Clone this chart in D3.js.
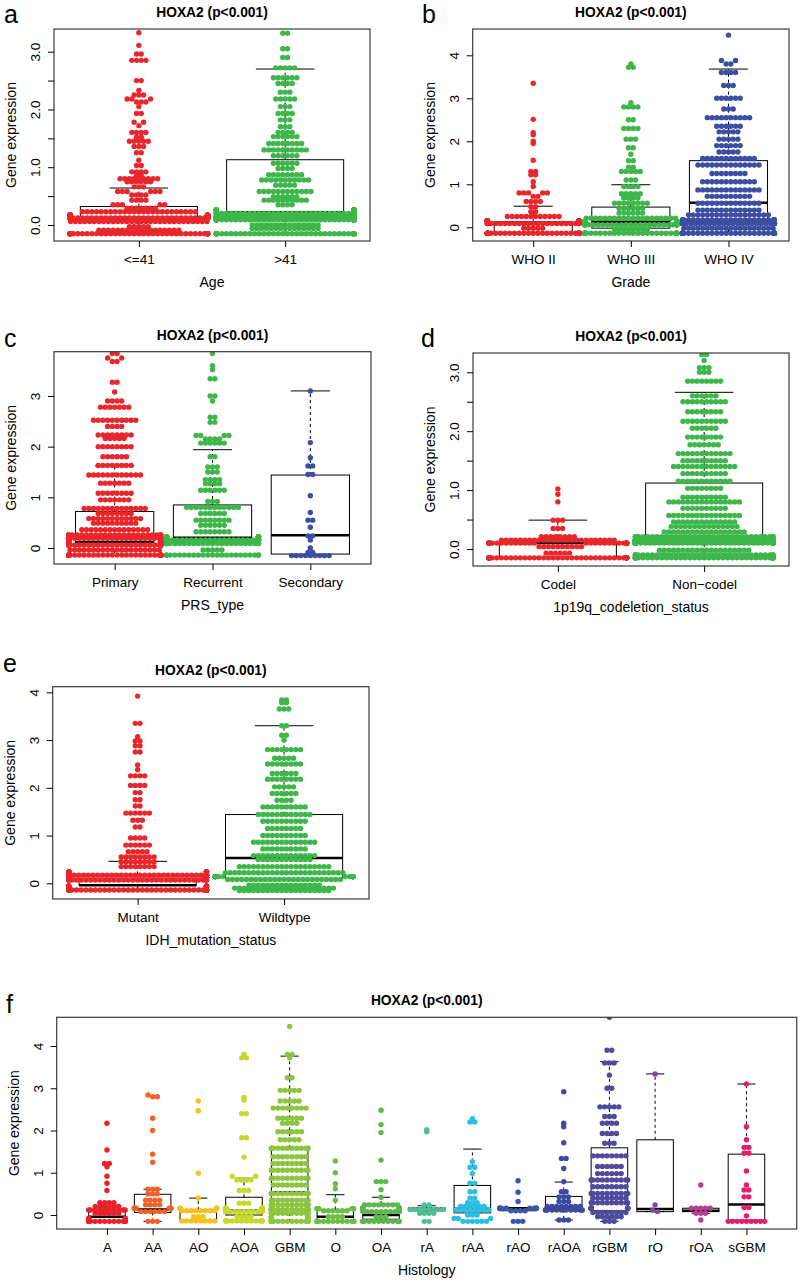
<!DOCTYPE html>
<html><head><meta charset="utf-8">
<script src="https://cdn.jsdelivr.net/npm/d3@7"></script>
<style>body{margin:0;background:#fff} svg{display:block} text{font-family:"Liberation Sans",Arial,sans-serif}</style>
</head><body><svg id="chart" width="800" height="1282"></svg>
<script>
// ---------- DATA (value levels: [value, number of samples]) ----------
const ageCats = ["<=41", ">41"];
const ageLE41 = [[3.33,1],[3.11,1],[2.96,2],[2.85,4],[2.5,2],[2.33,1],[2.25,3],[2.18,3],[2.13,3],[2.05,1],[1.93,2],[1.78,2],[1.72,1],[1.6,4],[1.52,2],[1.45,5],[1.36,3],[1.25,2],[1.12,1],[1.03,2],[0.92,4],[0.87,2],[0.8,9],[0.75,6],[0.66,3],[0.58,6],[0.52,4],[0.43,4],[0.35,5],[0.29,7],[0.23,25],[0.17,45],[0.12,60],[0.06,30],[-0.03,5],[-0.09,18],[-0.15,45]];
const ageGT41 = [[3.32,2],[3.05,2],[2.9,2],[2.72,5],[2.55,6],[2.45,4],[2.3,3],[2.18,5],[2.05,3],[1.93,4],[1.82,3],[1.7,3],[1.6,4],[1.53,6],[1.41,8],[1.3,10],[1.2,6],[1.07,6],[0.98,4],[0.87,8],[0.78,11],[0.69,5],[0.58,12],[0.49,6],[0.43,10],[0.35,4],[0.26,20],[0.2,40],[0.14,55],[0.09,70],[0.0,15],[-0.06,15],[-0.15,50]];
const ageBox = [[-0.15,0.05,0.12,0.32,0.64],[-0.15,0.1,0.22,1.13,2.7]]; // [low whisker, Q1, median, Q3, high whisker]

const gradeCats = ["WHO II","WHO III","WHO IV"];
const gradeII = [[3.35,1],[2.51,1],[2.2,1],[2.15,1],[2.0,1],[1.95,1],[1.56,1],[1.3,2],[1.22,2],[1.06,1],[0.95,1],[0.8,5],[0.72,2],[0.6,4],[0.48,2],[0.36,2],[0.25,12],[0.15,40],[0.09,25],[-0.02,5],[-0.14,45]];
const gradeIII = [[3.8,1],[3.72,2],[2.9,1],[2.8,4],[2.5,2],[2.3,4],[2.05,3],[1.85,2],[1.7,1],[1.55,2],[1.4,2],[1.3,5],[1.1,3],[0.95,4],[0.78,5],[0.68,4],[0.56,8],[0.44,6],[0.33,6],[0.21,20],[0.13,50],[0.06,35],[-0.05,8],[-0.14,40]];
const gradeIV = [[4.47,1],[3.88,2],[3.8,2],[3.6,4],[3.3,3],[3.0,6],[2.75,3],[2.55,10],[2.35,6],[2.22,5],[2.05,5],[1.9,6],[1.75,5],[1.6,12],[1.45,14],[1.25,8],[1.06,12],[0.87,14],[0.72,10],[0.56,14],[0.4,14],[0.29,18],[0.17,30],[0.09,35],[-0.02,20],[-0.14,40]];
const gradeBox = [[-0.14,-0.14,0.09,0.13,0.49],[-0.14,-0.02,0.13,0.47,0.99],[-0.14,0.1,0.57,1.55,3.68]];

const prsCats = ["Primary","Recurrent","Secondary"];
const prsPrimary = [[3.84,2],[3.75,2],[3.68,2],[3.27,2],[3.08,1],[2.9,4],[2.78,7],[2.52,10],[2.4,4],[2.23,8],[2.16,5],[2.0,8],[1.8,6],[1.63,8],[1.44,12],[1.28,7],[1.08,8],[0.95,7],[0.78,14],[0.68,8],[0.58,12],[0.49,10],[0.36,15],[0.26,25],[0.19,50],[0.12,65],[0.06,35],[-0.04,20],[-0.14,80]];
const prsRecurrent = [[3.84,1],[3.6,1],[3.52,1],[3.34,2],[3.0,2],[2.9,1],[2.58,2],[2.48,2],[2.22,4],[2.15,4],[2.07,6],[1.8,2],[1.6,3],[1.5,3],[1.35,4],[1.27,4],[1.14,6],[0.92,3],[0.8,12],[0.68,6],[0.55,8],[0.45,6],[0.32,8],[0.22,25],[0.16,35],[0.09,25],[-0.04,5],[-0.14,25]];
const prsSecondary = [[3.1,1],[2.08,1],[1.78,1],[1.62,2],[1.45,2],[1.03,1],[0.7,1],[0.55,2],[0.41,1],[0.24,2],[0.16,1],[0.0,1],[-0.09,2],[-0.15,9]];
const prsBox = [[-0.14,-0.04,0.12,0.72,1.62],[-0.14,0.09,0.2,0.85,1.94],[-0.15,-0.12,0.25,1.44,3.1]];

const codelCats = ["Codel","Non\u2212codel"];
const codelYes = [[1.02,1],[0.93,1],[0.8,1],[0.49,3],[0.35,3],[0.21,8],[0.15,25],[0.1,45],[0.04,10],[-0.07,6],[-0.15,55]];
const codelNon = [[3.3,2],[3.2,1],[3.08,3],[3.0,3],[2.85,8],[2.6,6],[2.5,10],[2.33,8],[2.17,10],[2.05,6],[1.9,8],[1.77,7],[1.62,12],[1.5,10],[1.4,14],[1.28,10],[1.15,12],[1.03,8],[0.88,10],[0.8,16],[0.69,10],[0.57,16],[0.46,14],[0.38,15],[0.29,18],[0.21,35],[0.15,60],[0.1,80],[-0.02,20],[-0.1,35],[-0.15,45]];
const codelBox = [[-0.15,-0.15,0.1,0.1,0.49],[-0.15,0.08,0.21,1.12,2.66]];

const idhCats = ["Mutant","Wildtype"];
const idhMutant = [[3.92,1],[3.35,2],[3.07,1],[2.98,2],[2.88,2],[2.75,2],[2.48,1],[2.38,1],[2.25,4],[2.05,4],[1.9,2],[1.75,2],[1.62,2],[1.47,6],[1.32,3],[1.18,2],[0.95,4],[0.8,6],[0.66,5],[0.55,8],[0.45,8],[0.35,8],[0.24,18],[0.17,50],[0.12,60],[0.07,35],[-0.06,15],[-0.14,80]];
const idhWildtype = [[3.84,2],[3.78,2],[3.65,3],[3.3,2],[3.1,2],[3.0,1],[2.8,8],[2.62,5],[2.5,8],[2.3,6],[2.18,8],[2.02,5],[1.88,6],[1.74,4],[1.6,10],[1.44,12],[1.3,10],[1.15,8],[1.0,10],[0.86,14],[0.72,10],[0.58,14],[0.5,12],[0.35,20],[0.22,26],[0.14,30],[0.08,25],[-0.04,16],[-0.1,22],[-0.15,20]];
const idhBox = [[-0.15,-0.04,-0.04,0.06,0.46],[-0.15,0.1,0.53,1.44,3.3]];

const histCats = ["A","AA","AO","AOA","GBM","O","OA","rA","rAA","rAO","rAOA","rGBM","rO","rOA","sGBM"];
const histA = [[2.17,1],[1.54,1],[1.22,2],[1.14,1],[0.92,1],[0.75,1],[0.58,1],[0.29,4],[0.2,6],[0.12,10],[0.04,6],[-0.08,4],[-0.15,14]];
const histAA = [[2.84,1],[2.8,2],[2.29,1],[2.0,1],[1.44,1],[1.25,1],[0.61,3],[0.5,3],[0.35,4],[0.24,4],[0.16,6],[0.08,6],[-0.15,3]];
const histAO = [[2.7,1],[2.47,1],[0.99,1],[0.4,1],[0.16,4],[0.1,8],[-0.04,3],[-0.14,8]];
const histAOA = [[3.8,1],[3.72,2],[2.78,1],[2.72,1],[2.4,2],[1.83,2],[1.37,1],[0.92,2],[0.83,4],[0.58,3],[0.28,3],[0.16,15],[0.08,12],[-0.04,4],[-0.14,14]];
const histGBM = [[4.46,1],[3.8,2],[3.72,1],[3.25,2],[2.95,5],[2.7,5],[2.53,8],[2.29,6],[2.17,4],[1.97,6],[1.78,5],[1.58,12],[1.38,8],[1.22,8],[1.06,10],[0.87,10],[0.71,8],[0.51,12],[0.35,10],[0.24,14],[0.13,20],[0.04,14],[-0.06,12],[-0.15,20]];
const histO = [[1.28,1],[1.0,1],[0.74,1],[0.62,1],[0.35,1],[0.15,6],[0.1,6],[-0.04,4],[-0.15,18]];
const histOA = [[2.48,1],[2.14,1],[1.95,1],[1.3,1],[0.79,3],[0.6,1],[0.42,1],[0.24,8],[0.16,15],[0.08,10],[-0.04,3],[-0.15,12]];
const histrA = [[2.02,1],[1.97,1],[0.24,2],[0.13,8],[0.04,4],[-0.15,2]];
const histrAA = [[2.28,1],[2.2,2],[1.26,1],[1.13,2],[0.98,1],[0.75,2],[0.55,2],[0.4,2],[0.29,3],[0.2,6],[0.12,8],[0.0,3],[-0.08,3],[-0.15,6]];
const histrAO = [[0.81,1],[0.54,1],[0.32,1],[0.16,10],[0.1,4],[-0.15,3]];
const histrAOA = [[2.92,1],[2.17,1],[2.09,1],[1.71,1],[1.34,2],[1.1,1],[0.79,1],[0.55,2],[0.43,3],[0.32,3],[0.2,8],[0.12,12],[-0.12,3]];
const histrGBM = [[4.68,1],[3.9,2],[3.6,3],[3.31,1],[3.0,2],[2.56,5],[2.33,3],[2.17,4],[1.93,4],[1.7,3],[1.4,8],[1.15,6],[0.98,6],[0.83,10],[0.67,8],[0.51,10],[0.4,8],[0.29,10],[0.16,12],[0.06,8],[-0.04,6],[-0.15,3]];
const histrO = [[3.34,1],[0.24,1],[0.12,1],[0.08,1]];
const histrOA = [[0.71,1],[0.16,5],[0.04,3],[-0.12,1]];
const histsGBM = [[3.1,1],[2.09,1],[1.78,1],[1.6,2],[1.46,2],[1.04,1],[0.71,1],[0.59,2],[0.43,2],[0.18,2],[-0.02,1],[-0.15,9]];
const histBox = [
  [-0.15,-0.15,-0.04,0.13,0.29],[-0.15,0.06,0.13,0.49,0.61],[-0.14,-0.13,0.1,0.12,0.4],[-0.14,0.0,0.1,0.42,0.87],
  [-0.15,0.05,0.54,1.58,3.76],[-0.15,-0.15,-0.04,0.13,0.48],[-0.15,-0.1,0.0,0.26,0.42],[0.04,0.1,0.13,0.17,0.22],
  [-0.15,0.05,0.15,0.7,1.56],[0.1,0.1,0.16,0.16,0.16],[-0.12,0.12,0.16,0.44,0.78],[-0.15,0.1,0.67,1.59,3.63],
  [0.08,0.08,0.14,1.78,3.34],[0.04,0.08,0.1,0.16,0.16],[-0.15,-0.12,0.25,1.44,3.1]];

// ---------- STYLE ----------
const RED = "#e8262b", GREEN = "#3db64a", BLUE = "#3c4ea2";
const histColors = ["#e8212a","#f0622a","#f4c21c","#c8d72c","#8cc63f","#6cbd45","#5cb84c","#4fbd95","#2bbfe2","#3b58a7","#3c4aa0","#4f4a9c","#7b4b9c","#b1418f","#e31f6b"];
const DOT_R = 2.7, DOT_D = 4.7, BIN_H = 4.6;

const svg = d3.select("#chart");

function expand(levels){ const v=[]; levels.forEach(([val,c])=>{ for(let k=0;k<c;k++) v.push(val); }); return v; }

// beeswarm "center"-style layout: y binned into rows of dot height, each row centred
// (lowest values nearest the centre), gutter corral
function centerSwarm(ys, ref, d, bin, limit){
  const rows = d3.group(ys.map((y,i)=>({y,i})), p=>Math.round((p.y-ref)/bin));
  const xs = new Array(ys.length);
  for(const [,pts] of rows){
    pts.sort((a,b)=>b.y-a.y);
    const c = pts.length;
    const offs = d3.range(c).map(k=>(k-(c-1)/2)*d)
      .sort((a,b)=>(Math.abs(a)-Math.abs(b)) || (b-a));
    pts.forEach((p,k)=>{ xs[p.i] = Math.max(-limit, Math.min(limit, offs[k])); });
  }
  return xs;
}

function drawPanel(cfg){
  const n = cfg.cats.length, ext = 0.04*n;
  const x = d3.scaleLinear().domain([0.5-ext, n+0.5+ext]).range([cfg.x0, cfg.x1]);
  const y = d3.scaleLinear().domain([cfg.yRef[0], cfg.yRef[1]]).range([cfg.yRef[2], cfg.yRef[3]]);
  const unit = x(1)-x(0);
  const g = svg.append("g");
  const cid = "clip_"+cfg.letter;
  svg.append("clipPath").attr("id",cid).append("rect")
    .attr("x",cfg.x0).attr("y",cfg.y0).attr("width",cfg.x1-cfg.x0).attr("height",cfg.y1-cfg.y0);
  const plot = g.append("g").attr("clip-path",`url(#${cid})`);

  // boxplots (drawn first, points on top)
  cfg.boxes.forEach((b,i)=>{
    const cx = x(i+1), hw = 0.4*unit, cw = 0.2*unit;
    const [lo,q1,med,q3,hi] = b;
    const bg = plot.append("g").attr("stroke","#000").attr("fill","none");
    bg.append("line").attr("x1",cx).attr("x2",cx).attr("y1",y(q3)).attr("y2",y(hi)).attr("stroke-dasharray","3,3");
    bg.append("line").attr("x1",cx).attr("x2",cx).attr("y1",y(q1)).attr("y2",y(lo)).attr("stroke-dasharray","3,3");
    bg.append("line").attr("x1",cx-cw).attr("x2",cx+cw).attr("y1",y(hi)).attr("y2",y(hi));
    bg.append("line").attr("x1",cx-cw).attr("x2",cx+cw).attr("y1",y(lo)).attr("y2",y(lo));
    bg.append("rect").attr("x",cx-hw).attr("width",2*hw).attr("y",y(q3)).attr("height",Math.max(0.5,y(q1)-y(q3)));
    bg.append("line").attr("x1",cx-hw).attr("x2",cx+hw).attr("y1",y(med)).attr("y2",y(med)).attr("stroke-width",2.5);
  });

  // beeswarm points
  cfg.groups.forEach((lv,i)=>{
    const vals = expand(lv);
    const ys = vals.map(v=>y(v));
    const xs = centerSwarm(ys, y(0), DOT_D, BIN_H, cfg.corral*unit);
    const cx = x(i+1);
    plot.append("g").selectAll("circle").data(vals).join("circle")
      .attr("cx",(_,k)=>cx+xs[k]).attr("cy",(_,k)=>ys[k]).attr("r",DOT_R)
      .attr("fill",cfg.colors[i]);
  });

  // frame
  g.append("rect").attr("x",cfg.x0).attr("y",cfg.y0).attr("width",cfg.x1-cfg.x0).attr("height",cfg.y1-cfg.y0)
    .attr("fill","none").attr("stroke","#3a3a3a").attr("stroke-width",1.2);

  // y axis
  const ya = g.append("g").attr("transform",`translate(${cfg.x0},0)`)
    .call(d3.axisLeft(y).tickValues(cfg.yTicks).tickSize(6).tickFormat(v=>cfg.yLabels.includes(v)?d3.format(cfg.fmt)(v):""));
  ya.select(".domain").remove();
  ya.attr("font-family",null).attr("font-size",null);
  ya.selectAll("line").attr("stroke","#000");
  ya.selectAll("text").attr("x",null).attr("dy",null).attr("fill","#000")
    .style("font-size","13.5px").style("text-anchor","middle")
    .attr("transform","translate(-14,0) rotate(-90)");

  // x axis
  const xa = g.append("g").attr("transform",`translate(0,${cfg.y1})`)
    .call(d3.axisBottom(x).tickValues(d3.range(1,n+1)).tickSize(6).tickFormat(i=>cfg.cats[i-1]));
  xa.select(".domain").remove();
  xa.attr("font-family",null).attr("font-size",null);
  xa.selectAll("line").attr("stroke","#000");
  xa.selectAll("text").attr("y",23).attr("dy",null).attr("fill","#000").style("font-size","13.5px");

  // titles
  const mid = (cfg.x0+cfg.x1)/2;
  g.append("text").attr("x",mid).attr("y",cfg.y0-12).attr("text-anchor","middle")
    .style("font-weight","bold").style("font-size","13.8px").text("HOXA2 (p<0.001)");
  g.append("text").attr("x",mid).attr("y",cfg.y1+46).attr("text-anchor","middle")
    .style("font-size","14px").text(cfg.xTitle);
  g.append("text").attr("transform",`translate(${cfg.x0-38},${(cfg.y0+cfg.y1)/2}) rotate(-90)`)
    .attr("text-anchor","middle").style("font-size","14px").text("Gene expression");
  g.append("text").attr("x",cfg.lx).attr("y",cfg.ly)
    .style("font-size","25px").text(cfg.letter);
}

const half = d3.range(0,3.01,0.5), ints3=[0,1,2,3], ints4=[0,1,2,3,4];
drawPanel({letter:"a",lx:4,ly:23,cats:ageCats,groups:[ageLE41,ageGT41],boxes:ageBox,colors:[RED,GREEN],corral:0.47,
  x0:54,x1:370,y0:29,y1:241,yRef:[0,3,225,51.7],yTicks:half,yLabels:ints3,fmt:".1f",xTitle:"Age"});
drawPanel({letter:"b",lx:422,ly:23,cats:gradeCats,groups:[gradeII,gradeIII,gradeIV],boxes:gradeBox,colors:[RED,GREEN,BLUE],corral:0.47,
  x0:472.7,x1:789,y0:29,y1:241,yRef:[0,4,227.3,55.3],yTicks:ints4,yLabels:ints4,fmt:"d",xTitle:"Grade"});
drawPanel({letter:"c",lx:4,ly:347,cats:prsCats,groups:[prsPrimary,prsRecurrent,prsSecondary],boxes:prsBox,colors:[RED,GREEN,BLUE],corral:0.47,
  x0:54,x1:371,y0:351.7,y1:564,yRef:[0,3,548,396],yTicks:ints3,yLabels:ints3,fmt:"d",xTitle:"PRS_type"});
drawPanel({letter:"d",lx:421,ly:347,cats:codelCats,groups:[codelYes,codelNon],boxes:codelBox,colors:[RED,GREEN],corral:0.47,
  x0:473,x1:789,y0:353,y1:566,yRef:[0,3,549,372.3],yTicks:half,yLabels:ints3,fmt:".1f",xTitle:"1p19q_codeletion_status"});
drawPanel({letter:"e",lx:3,ly:672,cats:idhCats,groups:[idhMutant,idhWildtype],boxes:idhBox,colors:[RED,GREEN],corral:0.47,
  x0:52.7,x1:369,y0:686.7,y1:899,yRef:[0,4,883.3,692.3],yTicks:ints4,yLabels:ints4,fmt:"d",xTitle:"IDH_mutation_status"});
drawPanel({letter:"f",lx:6,ly:1013,cats:histCats,corral:0.4,
  groups:[histA,histAA,histAO,histAOA,histGBM,histO,histOA,histrA,histrAA,histrAO,histrAOA,histrGBM,histrO,histrOA,histsGBM],
  boxes:histBox,colors:histColors,
  x0:56.7,x1:796.7,y0:1017.3,y1:1229,yRef:[0,4,1215,1046],yTicks:ints4,yLabels:ints4,fmt:"d",xTitle:"Histology"});
</script></body></html>
